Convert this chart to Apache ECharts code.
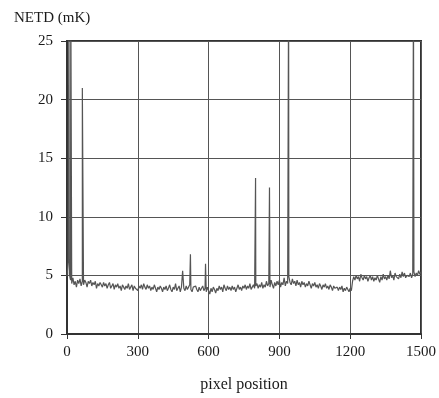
<!DOCTYPE html>
<html>
<head>
<meta charset="utf-8">
<script src="https://cdn.jsdelivr.net/npm/echarts@6/dist/echarts.min.js"></script>
<style>html,body{margin:0;padding:0;background:#fff}#c{width:439px;height:398px}</style>
</head>
<body>
<div id="c"></div>
<script>
// NETD readings every 5 pixel positions (0..1500)
const step = 5;
const netdBase = [
  4.9, 6.2, 5.1, 4.6, 4.3, 4.8, 4.2, 4.5, 4.0, 4.6,
  4.3, 4.7, 4.1, 4.5, 4.2, 4.6, 4.4, 4.0, 4.5, 4.3,
  4.6, 4.1, 4.4, 4.2, 4.5, 3.9, 4.3, 4.1, 4.4, 4.2,
  4.0, 4.4, 4.1, 4.3, 3.9, 4.2, 4.4, 3.9, 4.1, 4.3,
  3.8, 4.2, 4.0, 4.3, 3.9, 4.1, 3.7, 4.2, 4.0, 3.8,
  4.1, 3.9, 4.3, 3.8, 4.0, 4.2, 3.7, 4.1, 3.9, 4.0,
  3.7, 4.1, 3.9, 4.2, 3.8, 4.3, 4.0, 3.8, 4.2, 3.9,
  4.1, 3.7, 4.0, 3.8, 4.2, 3.9, 3.6, 4.0, 3.8, 4.1,
  3.9, 3.6, 4.0, 3.8, 4.1, 3.7, 3.9, 4.2, 3.8, 3.6,
  4.0, 3.8, 4.3, 3.7, 3.9, 4.1, 3.6, 4.0, 5.4, 3.9,
  3.7, 4.1, 3.8, 4.0, 4.2, 3.8, 3.6, 4.0, 3.9, 4.1,
  3.8, 3.6, 4.0, 3.7, 3.9, 4.1, 3.7, 3.9, 3.6, 4.0,
  3.7, 3.4, 3.9, 3.6, 4.0, 3.8, 3.5, 3.9, 3.7, 4.1,
  3.8, 4.0, 3.6, 4.2, 3.9, 3.7, 4.1, 3.8, 4.0, 3.7,
  4.1, 3.8, 4.0, 3.6, 3.9, 4.2, 3.8, 4.0, 3.7, 4.1,
  3.9, 4.2, 3.8, 4.1, 3.9, 4.3, 3.8, 4.0, 4.2, 3.9,
  4.1, 4.3, 3.9, 4.2, 4.0, 4.4, 3.9, 4.2, 4.0, 4.5,
  4.1, 4.3, 4.0, 4.6, 4.2, 3.9, 4.4, 4.1, 4.5, 4.2,
  4.6, 4.0, 4.4, 4.2, 4.8, 4.1, 4.5, 4.3, 4.9, 4.4,
  4.2, 4.7, 4.3, 4.5, 4.1, 4.6, 4.2, 4.4, 4.0, 4.5,
  4.2, 4.4, 4.0, 4.3, 4.1, 4.5, 4.2, 3.9, 4.3, 4.1,
  4.4, 4.0, 4.2, 3.9, 4.3, 4.1, 3.8, 4.2, 4.0, 4.3,
  3.9, 4.1, 3.8, 4.2, 4.0, 3.7, 4.1, 3.9, 3.8, 4.0,
  3.7, 4.0, 3.8, 4.1, 3.6, 3.9, 3.7, 4.0, 3.8, 3.6,
  3.9, 3.7, 4.5, 4.9, 4.6, 5.0, 4.7, 4.9, 4.5, 5.1,
  4.8, 4.6, 5.0, 4.7, 4.9, 4.5, 4.8, 5.0, 4.6, 4.9,
  4.5, 4.8, 4.6, 5.0, 4.7, 4.4, 4.9, 4.6, 5.1, 4.7,
  4.9, 4.6, 5.0, 4.7, 5.4, 4.8, 5.0, 4.6, 5.2, 4.9,
  5.0, 4.7, 5.1, 4.8, 5.3, 4.9, 5.2, 4.8, 5.0, 5.1,
  4.9, 5.2, 4.8, 5.1, 5.3, 4.9, 5.2, 5.0, 5.4, 5.1,
  5.3
];
// isolated defective-pixel spikes
const spikeX = [8, 16, 65, 523, 587, 799, 858, 939, 1468];
const spikeY = [30, 30, 21, 6.8, 6.0, 13.3, 12.5, 30, 30];

const xTicks = [0, 300, 600, 900, 1200, 1500];
const yTicks = [0, 5, 10, 15, 20, 25];

const pts = netdBase.map((v, i) => [i * step, v]);
spikeX.forEach((x, i) => pts.push([x, spikeY[i]]));
pts.sort((a, b) => a[0] - b[0]);

const serif = 'Liberation Serif';
const chart = echarts.init(document.getElementById('c'));
chart.setOption({
  animation: false,
  backgroundColor: '#fff',
  title: {
    text: 'NETD (mK)', left: 9, top: 6,
    textStyle: { fontFamily: serif, fontSize: 15, fontWeight: 'normal', color: '#1a1a1a' }
  },
  grid: {
    left: 67, right: 18, top: 41, bottom: 61,
    show: true, borderColor: '#333', borderWidth: 2, backgroundColor: 'transparent'
  },
  xAxis: {
    type: 'value', min: xTicks[0], max: xTicks[xTicks.length - 1], interval: 300,
    name: 'pixel position', nameLocation: 'middle', nameGap: 43,
    nameTextStyle: { fontFamily: serif, fontSize: 16, color: '#1a1a1a' },
    axisLine: { show: true, lineStyle: { color: '#333', width: 2 } },
    axisTick: { show: true, length: 5, lineStyle: { color: '#333' } },
    axisLabel: { fontFamily: serif, fontSize: 15, color: '#1a1a1a', margin: 11,
      formatter: v => String(v) },
    splitLine: { show: true, lineStyle: { color: '#555', width: 1 } }
  },
  yAxis: {
    type: 'value', min: yTicks[0], max: yTicks[yTicks.length - 1], interval: 5,
    axisLine: { show: true, lineStyle: { color: '#333', width: 2 } },
    axisTick: { show: true, length: 6, lineStyle: { color: '#333' } },
    axisLabel: { fontFamily: serif, fontSize: 15, color: '#1a1a1a', margin: 14 },
    splitLine: { show: true, lineStyle: { color: '#555', width: 1 } }
  },
  series: [{
    type: 'line', data: pts, showSymbol: false, symbol: 'none',
    lineStyle: { color: '#555', width: 1.2 }, clip: true
  }]
});
</script>
</body>
</html>
